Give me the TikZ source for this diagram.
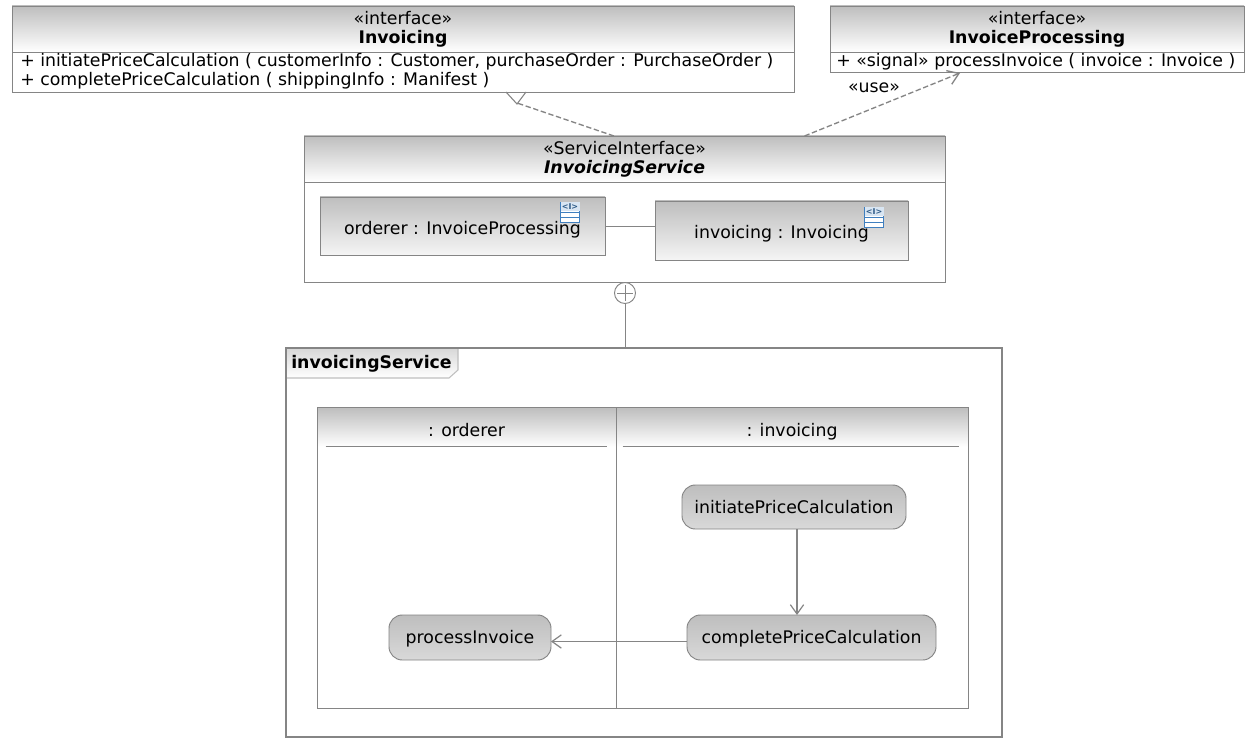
\documentclass[tikz,border=0pt]{standalone}
\usepackage{fontspec}
\setmainfont{DejaVu Sans}
\usepackage{xcolor}
\usetikzlibrary{arrows.meta, calc, shadows}
\definecolor{umlline}{HTML}{858585}
\definecolor{umlhead}{HTML}{BEBEBE}
\definecolor{umlicon}{HTML}{3F7FBF}
\newcommand{\umlfont}{\fontsize{13}{14.25}\selectfont}
\tikzset{
    sized/.style 2 args={minimum width=#1*0.75pt, minimum height=#2*0.75pt, inner sep=0pt, outer sep=0pt},
    softshadow/.style={drop shadow={opacity=0.25, shadow xshift=0.8pt, shadow yshift=-0.8pt}},
    umlbox/.style={draw=umlline, line width=0.7pt, fill=white, softshadow},
    umlhd/.style={draw=umlline, line width=0.7pt, top color=umlhead, bottom color=white, align=center, font=\umlfont},
    partbox/.style={draw=umlline, line width=0.7pt, top color=umlhead, bottom color=white!96!black, softshadow, font=\umlfont, text height=12pt, text depth=0pt},
    action/.style={draw=umlline, line width=0.7pt, rounded corners=10pt, top color=umlhead, middle color=white!97!black, bottom color=white!85!black, font=\umlfont, text height=10pt, text depth=1pt},
    lane/.style={draw=umlline, line width=0.7pt, fill=white},
    lanehd/.style={top color=umlhead, bottom color=white, font=\umlfont, text height=13.5pt, text depth=0pt},
    optext/.style={anchor=west, inner sep=0pt, font=\umlfont},
    dep/.style={draw=umlline, line width=1pt, dash pattern=on 4pt off 2pt},
    flow/.style={draw=umlline, line width=0.9pt, -{Straight Barb[length=7pt,width=10pt,line width=0.9pt]}},
}
\begin{document}
\begin{tikzpicture}[x=0.75pt,y=-0.75pt]
\useasboundingbox (0,0) rectangle (1248,745);
\fill[white] (0,0) rectangle (1248,745);

% interfaces
\node[umlbox, sized={782}{86}] (invoicing) at (403,49) {};
\node[umlhd, sized={782}{46}] (invoicinghd) at (403,29) {«interface»\\\textbf{Invoicing}};
\node[optext] (initiateop) at (20,62) {+ initiatePriceCalculation ( customerInfo : Customer, purchaseOrder : PurchaseOrder )};
\node[optext] (completeop) at (20,81) {+ completePriceCalculation ( shippingInfo : Manifest )};

\node[umlbox, sized={414}{66}] (processing) at (1037,39) {};
\node[umlhd, sized={414}{46}] (processinghd) at (1037,29) {«interface»\\\textbf{InvoiceProcessing}};
\node[optext] (processop) at (836,62) {+ «signal» processInvoice ( invoice : Invoice )};

% service interface
\node[umlbox, sized={641}{146}] (service) at (624.5,209) {};
\node[umlhd, sized={641}{46}] (servicehd) at (624.5,159) {«ServiceInterface»\\\textbf{\textit{InvoicingService}}};
\node[partbox, sized={285}{58}] (ordererpart) at (462.5,226) {orderer : InvoiceProcessing};
\node[partbox, sized={253}{59}] (invoicingpart) at (781.5,230.5) {invoicing : Invoicing};
\draw[umlline, line width=0.7pt] (ordererpart.east) -- (ordererpart.east -| invoicingpart.west);

\foreach \n/\x/\y in {ordericon/570/212, invoiceicon/874/217} {
    \node[draw=umlicon, fill=white, sized={19}{20}, line width=0.6pt] (\n) at (\x,\y) {};
    \fill[umlicon!20] (\n.north west) rectangle ($(\n.east)+(0,-1)$);
    \node[text=umlicon!70!black, font=\fontsize{6}{6}\selectfont\bfseries, inner sep=0pt] (\n text) at ($(\n.north)+(0,5)$) {<I>};
    \draw[umlicon, line width=0.6pt] (\n.west) -- (\n.east) ($(\n.west)+(0,5)$) -- ($(\n.east)+(0,5)$);
}

% connectors to the interfaces
\draw[dep] ($(service.north)+(-10.5,0)$) -- ($(invoicing.south)+(114,11)$);
\draw[umlline, line width=0.8pt] ($(invoicing.south)+(103,0)$) -- ($(invoicing.south)+(114,12)$) -- ($(invoicing.south)+(123,0)$);
\draw[dep, -{Straight Barb[length=8pt,width=11pt,line width=1pt]}] ($(service.north)+(180,0)$) -- ($(processing.south)+(-77,1)$);
\node[inner sep=0pt, font=\umlfont] (uselabel) at (874,88) {«use»};

% containment
\node[draw=umlline, fill=white, circle, minimum size=21*0.75pt, inner sep=0pt, line width=0.7pt] (nest) at (625,293) {};
\draw[umlline, line width=0.6pt] ($(nest.west)+(3,0)$) -- ($(nest.east)+(-3,0)$) ($(nest.north)+(0,3)$) -- ($(nest.south)+(0,-3)$);

% activity frame
\node[draw=umlline, line width=2pt, fill=white, sized={716}{389}, softshadow] (frame) at (644,542.5) {};
\draw[umlline, line width=0.7pt] (nest.south) -- (nest.south |- frame.north);
\shade[top color=white!85!black, bottom color=white] (287,349) -- (458,349) -- (458,370) -- (449,378) -- (287,378) -- cycle;
\draw[white!75!black, line width=0.8pt] (458,349) -- (458,370) -- (449,378) -- (287,378);
\node[anchor=west, inner sep=0pt, font=\umlfont\bfseries] (framelabel) at (291,364) {invoicingService};

\node[lane, sized={299}{301}] (ordererlane) at (466.5,557.5) {};
\node[lane, sized={352}{301}] (invoicinglane) at (792,557.5) {};
\node[lanehd, sized={298}{39}] (ordererhd) at (466.5,427) {: orderer};
\node[lanehd, sized={351}{39}] (invoicinghdl) at (792,427) {: invoicing};
\draw[umlline, line width=0.7pt] (ordererlane.north west) rectangle (invoicinglane.south east);
\draw[umlline, line width=0.7pt] (ordererlane.north east) -- (ordererlane.south east);
\draw[umlline, line width=0.7pt] ($(ordererhd.south west)+(8,0)$) -- ($(ordererhd.south east)+(-9,0)$);
\draw[umlline, line width=0.7pt] ($(invoicinghdl.south west)+(6,0)$) -- ($(invoicinghdl.south east)+(-9,0)$);

\node[action, sized={224}{44}] (initiateprice) at (794,507) {initiatePriceCalculation};
\node[action, sized={249}{45}] (completeprice) at (811.5,637.5) {completePriceCalculation};
\node[action, sized={162}{45}] (processinvoice) at (470,637.5) {processInvoice};
\coordinate (flowtop) at ($(initiateprice.south)+(3,0)$);
\draw[flow] (flowtop) -- (flowtop |- completeprice.north);
\draw[flow] ($(completeprice.west)+(0,4)$) -- ($(processinvoice.east)+(0,4)$);
\end{tikzpicture}
\end{document}
